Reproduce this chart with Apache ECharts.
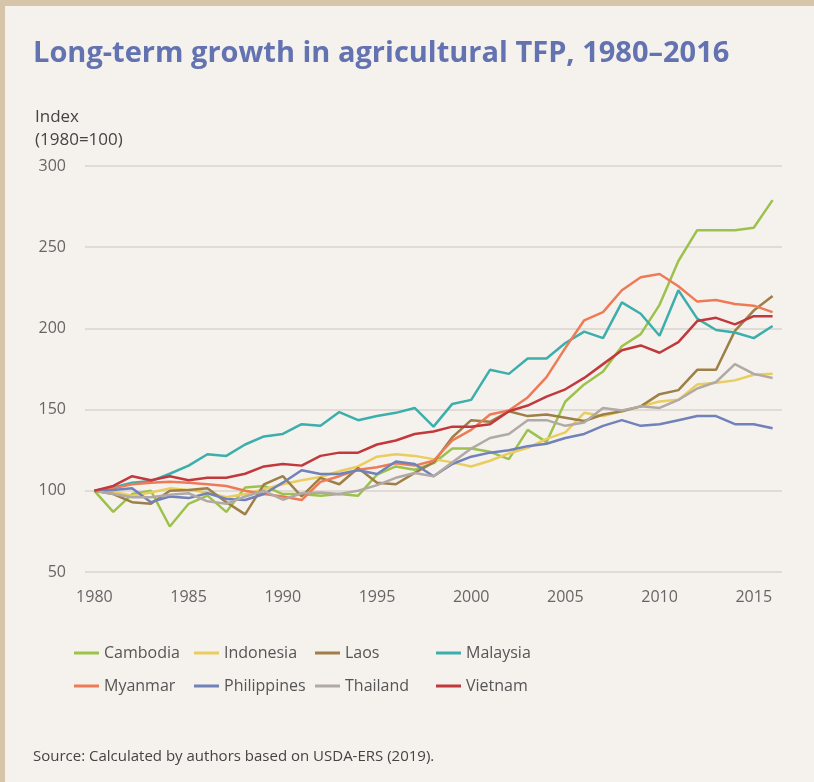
<!DOCTYPE html>
<html>
<head>
<meta charset="utf-8">
<script src="https://cdn.jsdelivr.net/npm/echarts@6/dist/echarts.min.js"></script>
<style>
  html, body { margin: 0; padding: 0; background: #f5f2ed; }
  #wrap { position: relative; width: 814px; height: 782px; }
  #main { width: 814px; height: 782px; }
  .edge-top { position: absolute; left: 0; top: 0; width: 814px; height: 6px; background: #d6c5a9; }
  .edge-left { position: absolute; left: 0; top: 0; width: 5px; height: 782px; background: #d6c5a9; }
</style>
</head>
<body>
<div id="wrap">
  <div id="main"></div>
  <div class="edge-top"></div>
  <div class="edge-left"></div>
</div>
<script>
// years 1980-2016
var years = [];
for (var y = 1980; y <= 2016; y++) years.push(String(y));

var cambodia = [100, 87, 98, 100, 78, 92, 97, 87, 102, 103, 98, 98, 97, 98, 97, 110, 115, 113, 117, 126, 126, 124, 119.5, 137.5, 130, 155, 165.5, 173.5, 189, 196.5, 214.5, 241.5, 260.5, 260.5, 260.5, 262, 279];
var indonesia = [100, 99.5, 97, 99, 101.5, 100.5, 99, 96, 98, 101, 104, 106.5, 108.5, 112, 115, 121, 122.5, 121.5, 119.5, 117.5, 115, 118.5, 123, 126.5, 132, 136, 148, 146, 149, 152, 155, 156, 165.5, 166.5, 168, 171.5, 172];
var laos = [100, 98, 93, 92, 100, 100.5, 101.5, 93, 85.5, 104, 109, 96.5, 108, 104, 114, 105, 104, 111, 117.5, 133, 143.5, 142.5, 149, 146, 147, 145, 143, 147, 149, 152, 159.5, 162, 174.5, 174.5, 198.5, 211, 220];
var malaysia = [100, 102, 105, 106, 110.5, 115.5, 122.5, 121.5, 128.5, 133.5, 135, 141, 140, 148.5, 143.5, 146, 148, 151, 139.5, 153.5, 156, 174.5, 172, 181.5, 181.5, 191, 198, 194, 216, 209, 195.5, 223.5, 206, 199, 197.5, 194, 201.5];
var myanmar = [100, 101.5, 104, 105, 105.5, 105, 104, 103, 100, 98, 96.5, 94.3, 105.5, 109, 113, 114.5, 117, 115.5, 118.5, 131, 137.5, 147, 149.5, 157.5, 170, 188, 205, 210, 223.5, 231.5, 233.5, 226, 216.5, 217.5, 215, 214, 210];
var philippines = [100, 100.5, 101.5, 93, 96.5, 95.5, 98.5, 95, 94.3, 98, 105, 112.7, 110.3, 110.3, 112.7, 110.3, 118, 116.5, 109, 116.5, 121, 123.5, 125, 127.5, 129, 132.5, 135, 140, 143.5, 140, 141, 143.5, 146, 146, 141, 141, 138.5];
var thailand = [100, 98, 96, 96, 97.5, 98.5, 93.5, 92, 96.5, 100, 94.5, 98.5, 99, 98, 100, 103.5, 108, 111, 109, 117.5, 126, 132.5, 135, 143.5, 143.5, 140, 142, 151, 149.5, 152, 151, 156, 163, 167, 178, 172, 169.5];
var vietnam = [100, 103, 109, 106.5, 109, 106.5, 108, 108, 110.5, 115, 116.5, 115.5, 121.5, 123.5, 123.5, 128.5, 131, 135, 136.5, 139.5, 139.5, 141, 149, 152.5, 158, 162.5, 169.5, 178, 186.5, 189.5, 185, 191.5, 204.5, 206.5, 202.5, 207.5, 207.5];

var names = ['Cambodia', 'Indonesia', 'Laos', 'Malaysia', 'Myanmar', 'Philippines', 'Thailand', 'Vietnam'];
var values = [cambodia, indonesia, laos, malaysia, myanmar, philippines, thailand, vietnam];
var colors = ['#9cc24c', '#e9cd5e', '#9d7f47', '#3caeab', '#ee7b58', '#7181b9', '#b1a9a5', '#c1393c'];

var font = '"Open Sans", sans-serif';
var textCol = '#555';

var series = names.map(function (n, i) {
  return {
    name: n,
    type: 'line',
    data: values[i],
    symbol: 'none',
    lineStyle: { width: 2.5, color: colors[i] },
    itemStyle: { color: colors[i] }
  };
});

// legend columns: each column holds a row-1 and row-2 item
var colX = [69, 189, 310, 431];
var legends = colX.map(function (x, c) {
  return {
    left: x,
    top: 640,
    orient: 'vertical',
    data: [names[c], names[c + 4]],
    icon: 'rect',
    itemWidth: 25,
    itemHeight: 3,
    itemGap: 17,
    textStyle: { fontFamily: font, fontSize: 16, color: textCol }
  };
});

var myChart = echarts.init(document.getElementById('main'));
myChart.setOption({
  backgroundColor: '#f5f2ed',
  animation: false,
  color: colors,
  title: [
    {
      text: 'Long-term growth in agricultural TFP, 1980–2016',
      left: 28,
      top: 34,
      textStyle: { fontFamily: font, fontSize: 29, fontWeight: 'bold', color: '#6372b0' }
    },
    {
      text: 'Index\n(1980=100)',
      left: 30,
      top: 101,
      textStyle: { fontFamily: font, fontSize: 17, fontWeight: 'normal', color: '#444', lineHeight: 23 }
    },
    {
      text: 'Source: Calculated by authors based on USDA-ERS (2019).',
      left: 28,
      top: 744,
      textStyle: { fontFamily: font, fontSize: 15, fontWeight: 'normal', color: '#444' }
    }
  ],
  legend: legends,
  grid: { left: 85, right: 32, top: 166, bottom: 210 },
  xAxis: {
    type: 'category',
    data: years,
    boundaryGap: true,
    axisLine: { show: false },
    axisTick: { show: false },
    axisLabel: { interval: 4, margin: 17, fontFamily: font, fontSize: 16, color: '#666' }
  },
  yAxis: {
    type: 'value',
    min: 50,
    max: 300,
    interval: 50,
    axisLine: { show: false },
    axisTick: { show: false },
    axisLabel: { margin: 19, fontFamily: font, fontSize: 16, color: '#666' },
    splitLine: { lineStyle: { color: '#d8d3ce', width: 1.5 } }
  },
  series: series
});
</script>
</body>
</html>
